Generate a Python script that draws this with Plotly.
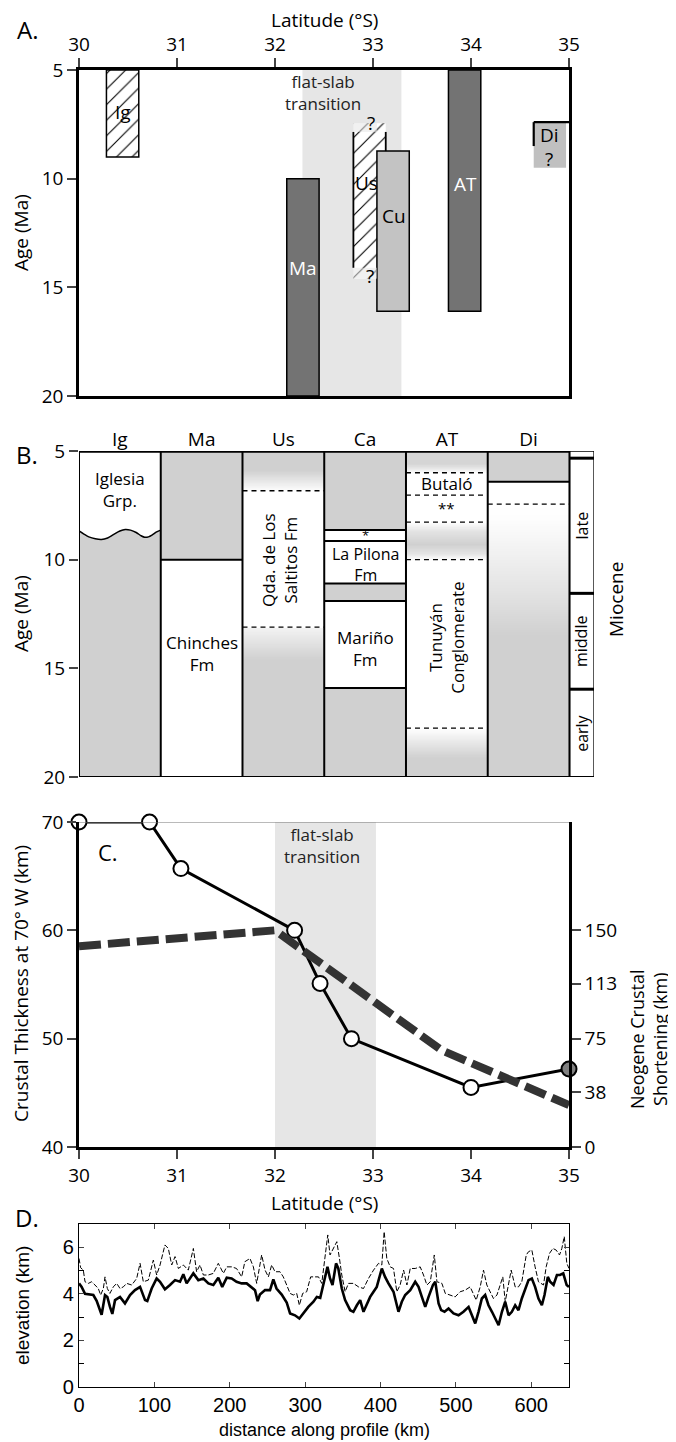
import numpy as np
import plotly.graph_objects as go

W, H = 676, 1442
FONT = "Open Sans"
DFONT = "Liberation Sans"
PAGE_OFF = 8  # the page body margin shifts the figure by this many pixels


def fx(p):
    return (p - PAGE_OFF) / W


def fy(p):
    return 1 - (p - PAGE_OFF) / H


# ---------------- Panel A data ----------------
a_units = ["Ig", "Ma", "Us", "Cu", "AT", "Di"]
a_lat_left = [30.28, 32.12, 32.80, 33.04, 33.77, 34.64]
a_age_top = [5.0, 10.0, 7.45, 8.73, 5.0, 7.4]
a_age_bottom = [9.0, 20.0, 14.6, 16.1, 16.1, 9.5]
a_width = 0.33
a_band = [32.28, 33.29]

# ---------------- Panel B data ----------------
b_columns = ["Ig", "Ma", "Us", "Ca", "AT", "Di"]
# shading nodes (age, shade 0=white 1=grey) per column
b_shade = [
    [(5, 0), (20, 0)],
    [(5, 1), (10, 1), (10, 0), (20, 0)],
    [(5, 1), (5.9, 1), (6.83, 0.05), (6.83, 0), (13.1, 0), (13.1, 0.25), (14.6, 1), (20, 1)],
    [(5, 1), (8.64, 1), (8.64, 0), (11.1, 0), (11.1, 1), (11.9, 1), (11.9, 0), (15.9, 0), (15.9, 1), (20, 1)],
    [(5, 0.9), (5.6, 0.9), (6.0, 0.1), (6.0, 0), (8.27, 0), (8.7, 0.6), (9.3, 1), (9.7, 0.6), (10.0, 0.05),
     (10.0, 0), (17.75, 0), (18.4, 0.5), (19.1, 1), (20, 1)],
    [(5, 1), (6.41, 1), (6.41, 0), (7.44, 0), (8.2, 0.05), (11.5, 0.6), (13.5, 1), (20, 1)],
]
# boundaries: (column, age, style)
b_bounds = [
    (1, 10.0, "solid"),
    (2, 6.83, "dash"), (2, 13.1, "dash"),
    (3, 8.64, "solid"), (3, 9.14, "solid"), (3, 11.1, "solid"), (3, 11.9, "solid"), (3, 15.9, "solid"),
    (4, 6.0, "dash"), (4, 7.03, "dash"), (4, 8.27, "dash"), (4, 10.0, "dash"), (4, 17.75, "dash"),
    (5, 6.41, "solid"), (5, 7.44, "dash"),
]
ig_wave_x = [0.0, 0.06, 0.12, 0.2, 0.275, 0.35, 0.42, 0.5, 0.566, 0.63, 0.70, 0.76, 0.804, 0.85, 0.9, 0.95, 1.0]
ig_wave_age = [8.68, 8.82, 8.95, 9.04, 9.07, 9.0, 8.85, 8.68, 8.61, 8.64, 8.75, 8.9, 8.97, 8.95, 8.85, 8.72, 8.64]
epoch_bounds = [5.33, 11.55, 15.96]
epoch_names = ["late", "middle", "early"]

# ---------------- Panel C data ----------------
c_lat = [30.0, 30.72, 31.04, 32.2, 32.46, 32.78, 34.0, 35.0]
c_thick = [70.0, 70.0, 65.7, 60.0, 55.1, 50.0, 45.5, 47.2]
s_lat = [30.0, 32.0, 33.7, 35.0]
s_short = [139, 150, 67, 29]
c_band = [32.0, 33.03]

# ---------------- Panel D data ----------------
d_dist_solid = [0, 3.5, 8, 14.6, 19, 23.4, 30, 34.5, 37.6, 41, 44.2, 47.8, 54.4, 61, 67.7, 74.3, 81, 87.6, 90.6,
                96.4, 103, 107.5, 114, 120.7, 127.4, 134, 138.4, 142.8, 151.7, 158.3, 165, 171.6, 178.2, 184.8,
                190, 196, 202.5, 209, 215.8, 222.4, 229, 233.5, 237, 240, 246.8, 253.4, 257.8, 262, 268.9,
                275.5, 280, 286.5, 292.3, 297.6, 304.2, 311, 315.5, 320, 324.3, 329.6, 333, 336.3, 341, 344,
                348.6, 353, 359.7, 364, 368.6, 373, 377.4, 381.8, 386.2, 390.7, 395, 401.7, 406, 410.5, 417.2,
                423.8, 428.2, 432.7, 439.4, 446, 450.4, 454.8, 459.3, 463.7, 469.5, 472.6, 477, 480.4, 484.9,
                490.2, 496.8, 503.5, 510, 516.8, 521.2, 525.6, 530, 534.4, 538.8, 543.2, 547.8, 552, 556.6, 561,
                565.4, 569.8, 574.2, 578.6, 583, 587.4, 591.9, 596.3, 600.7, 605, 609.5, 614, 617.5, 621.9, 625,
                629.5, 634, 638, 642.4, 646.9, 650]
d_elev_solid = [4.45, 4.3, 4.0, 3.97, 3.95, 3.7, 3.1, 3.95, 3.87, 3.45, 3.14, 3.73, 3.87, 3.59, 3.95, 4.16, 4.3,
                3.73, 3.69, 4.23, 4.66, 4.52, 4.2, 4.38, 4.59, 4.52, 4.84, 4.45, 4.88, 4.59, 4.66, 4.45, 4.38,
                4.69, 4.3, 4.69, 4.66, 4.52, 4.45, 4.45, 4.3, 4.16, 3.69, 3.97, 4.16, 4.16, 4.62, 4.23, 3.97,
                3.63, 3.16, 3.08, 2.94, 3.16, 3.44, 3.66, 3.87, 3.83, 4.38, 5.16, 4.66, 4.38, 5.31, 5.09, 4.23,
                3.73, 3.30, 3.23, 3.51, 3.73, 3.23, 3.59, 3.87, 4.09, 4.30, 5.09, 4.73, 4.45, 4.09, 3.23, 3.66,
                3.95, 4.16, 4.52, 4.30, 3.87, 3.44, 3.87, 4.38, 4.52, 3.59, 3.30, 3.23, 3.37, 3.16, 3.08, 3.23,
                3.44, 3.08, 2.73, 3.23, 3.80, 3.95, 3.51, 3.23, 2.94, 2.65, 3.23, 3.66, 3.08, 3.23, 3.51, 3.30,
                3.80, 4.16, 4.59, 4.66, 4.30, 3.80, 3.51, 3.95, 4.73, 4.52, 4.38, 4.81, 4.81, 4.88, 4.38, 4.3]
d_dist_dash = [0, 2.2, 5.7, 8, 12.4, 16.8, 21.2, 25.6, 28.7, 32.3, 34.5, 37.6, 41, 45.5, 50, 54.4, 58.8, 63.2,
               69.9, 76.5, 81, 85.3, 92, 98.6, 103, 107.5, 114, 118.5, 123, 127.4, 131.8, 138.4, 145, 151.7,
               156, 160.5, 165, 171.6, 178.2, 184.8, 191.5, 196, 202.5, 209, 215.8, 220, 226.8, 231.3, 235.7,
               242.3, 246.8, 251.2, 255.6, 260, 266.6, 271, 275.5, 280, 284.3, 288.8, 292.3, 296.7, 302, 307.3,
               313, 317.7, 322, 326.5, 330, 333, 337.6, 342, 345.5, 348.6, 353, 357.5, 364, 370.8, 377.4, 384,
               390.7, 397.3, 401.7, 404.8, 408.3, 412.8, 417.2, 421.6, 426, 430.6, 435, 439.4, 446, 452.6, 457,
               461.5, 466, 471.3, 474.8, 481.4, 485.9, 492.5, 499, 505.6, 512.3, 518.9, 523.3, 526.9, 532.2,
               536.6, 541, 545.4, 549.8, 554.4, 558.7, 562.2, 565.4, 569.8, 573.3, 578.6, 583, 587.4, 593.3,
               596.3, 600.7, 605, 609.5, 616.2, 619.7, 624.2, 628.6, 633, 637.4, 640.5, 643.7, 647.1, 650]
d_elev_dash = [5.52, 5.12, 5.02, 4.52, 4.45, 4.52, 4.38, 4.23, 3.95, 4.23, 4.73, 4.23, 4.02, 4.30, 4.45, 4.23,
               4.30, 4.45, 4.38, 4.66, 5.31, 4.52, 4.59, 5.45, 4.81, 5.24, 6.10, 5.95, 5.24, 5.60, 5.09, 5.24,
               5.02, 5.95, 4.95, 5.24, 4.81, 4.81, 4.88, 5.31, 4.88, 5.16, 5.16, 5.09, 4.73, 5.38, 5.52, 5.16,
               4.45, 5.67, 5.02, 4.73, 5.24, 4.95, 4.95, 4.73, 4.38, 4.02, 3.95, 4.02, 3.51, 4.02, 4.09, 4.73,
               4.73, 4.73, 4.45, 5.67, 6.53, 5.67, 5.95, 6.24, 5.52, 4.81, 4.09, 4.45, 4.45, 4.30, 4.23, 4.66,
               5.02, 5.31, 5.24, 6.67, 5.52, 5.16, 5.09, 4.09, 4.38, 5.02, 4.38, 5.09, 5.09, 5.16, 4.81, 4.38,
               4.52, 5.67, 4.52, 4.45, 4.02, 3.95, 3.87, 4.09, 4.16, 4.30, 3.95, 3.73, 4.30, 5.02, 4.38, 4.09,
               3.80, 3.95, 4.38, 4.73, 3.66, 4.45, 5.02, 4.30, 4.30, 4.52, 5.67, 5.81, 5.88, 5.16, 4.52, 4.38,
               5.16, 5.74, 5.95, 5.88, 5.67, 5.95, 6.46, 5.31, 5.09]

GREY = "#d0d0d0"
DARK = "#737373"
LIGHT = "#c3c3c3"
BAND = "#e6e6e6"

fig = go.Figure()
shapes = []
ann = []


def add_ann(text, x, y, xref, yref, size=19, color="black", angle=0, family=FONT):
    ann.append(dict(text=text, x=x, y=y, xref=xref, yref=yref, showarrow=False, textangle=angle,
                    xanchor="center", yanchor="middle", borderpad=0,
                    font=dict(family=family, size=size, color=color)))


# ================= Panel A =================
shapes.append(dict(type="rect", xref="x", yref="y", x0=a_band[0], x1=a_band[1], y0=5, y1=20,
                   fillcolor=BAND, line_width=0, layer="below"))


def a_bar(idx_list, fill, pattern=None, line_w=1.5):
    xs = [a_lat_left[i] + a_width / 2 for i in idx_list]
    base = [a_age_top[i] for i in idx_list]
    length = [a_age_bottom[i] - a_age_top[i] for i in idx_list]
    marker = dict(color=fill, line=dict(color="black", width=line_w))
    if pattern:
        marker["pattern"] = dict(shape="/", fgcolor="black", bgcolor="white", size=11, solidity=0.1)
    fig.add_trace(go.Bar(x=xs, y=length, base=base, width=a_width, marker=marker,
                         xaxis="x", yaxis="y", showlegend=False, hoverinfo="skip"))


a_bar([0], "white", pattern=True)             # Ig
a_bar([2], "white", pattern=True, line_w=0)   # Us
a_bar([1, 4], DARK)                            # Ma, AT
a_bar([3], LIGHT)                              # Cu
a_bar([5], "#c0c0c0", line_w=0)               # Di

# Us fades and borders
us_l, us_r = a_lat_left[2], a_lat_left[2] + a_width
for y0, y1 in [(a_age_top[2], 7.85), (14.1, a_age_bottom[2])]:
    shapes.append(dict(type="rect", xref="x", yref="y", x0=us_l - 0.005, x1=a_lat_left[3], y0=y0, y1=y1,
                       fillcolor=BAND, opacity=0.55, line_width=0))
shapes.append(dict(type="line", xref="x", yref="y", x0=us_l, x1=us_l, y0=7.85, y1=14.1,
                   line=dict(color="black", width=1.8)))
shapes.append(dict(type="line", xref="x", yref="y", x0=us_r, x1=us_r, y0=7.85, y1=a_age_top[3],
                   line=dict(color="black", width=1.8)))
# Di partial border
di_l = a_lat_left[5]
shapes.append(dict(type="line", xref="x", yref="y", x0=di_l, x1=35, y0=a_age_top[5], y1=a_age_top[5],
                   line=dict(color="black", width=2.2)))
shapes.append(dict(type="line", xref="x", yref="y", x0=di_l, x1=di_l, y0=a_age_top[5], y1=8.5,
                   line=dict(color="black", width=2.2)))

a_labels = [("Ig", 30.45, 6.95, "black"), ("Ma", 32.285, 14.1, "white"), ("Us", 32.93, 10.2, "black"),
            ("Cu", 33.21, 11.7, "black"), ("AT", 33.94, 10.25, "white"), ("Di", 34.8, 8.0, "black"),
            ("?", 32.98, 7.45, "black"), ("?", 32.97, 14.5, "black"), ("?", 34.8, 9.1, "black")]
for t, x, y, c in a_labels:
    add_ann(t, x, y, "x", "y", 19, c)
add_ann("flat-slab<br>transition", 32.49, 6.05, "x", "y", 17, "#222")

# ================= Panel B =================
ages = np.arange(5, 20.0001, 0.025)
Z = np.zeros((len(ages), len(b_columns)))
for j, nodes in enumerate(b_shade):
    xp = np.array([n[0] for n in nodes], dtype=float) + np.arange(len(nodes)) * 1e-6
    fp = np.array([n[1] for n in nodes], dtype=float)
    Z[:, j] = np.interp(ages, xp, fp)
fig.add_trace(go.Heatmap(x=[i + 0.5 for i in range(len(b_columns))], y=ages, z=Z,
                         colorscale=[[0, "white"], [1, GREY]], zmin=0, zmax=1, showscale=False,
                         xaxis="x2", yaxis="y2", hoverinfo="skip"))
# Iglesia wavy contact
fig.add_trace(go.Scatter(x=ig_wave_x + [1, 0], y=ig_wave_age + [20, 20], fill="toself", fillcolor=GREY,
                         mode="lines", line=dict(width=0), xaxis="x2", yaxis="y2",
                         showlegend=False, hoverinfo="skip"))
fig.add_trace(go.Scatter(x=ig_wave_x, y=ig_wave_age, mode="lines",
                         line=dict(color="black", width=1.5, shape="spline"), xaxis="x2", yaxis="y2",
                         showlegend=False, hoverinfo="skip"))

for col, age, style in b_bounds:
    shapes.append(dict(type="line", xref="x2", yref="y2", x0=col, x1=col + 1, y0=age, y1=age,
                       line=dict(color="black", width=2 if style == "solid" else 1.3,
                                 dash="solid" if style == "solid" else "5px,4px")))
for i in range(len(b_columns) + 1):
    shapes.append(dict(type="line", xref="x2", yref="y2", x0=i, x1=i, y0=5, y1=20,
                       line=dict(color="black", width=2)))
shapes.append(dict(type="line", xref="x2", yref="y2", x0=0, x1=6, y0=5, y1=5, line=dict(color="black", width=3.5)))
shapes.append(dict(type="line", xref="x2", yref="y2", x0=0, x1=6.3, y0=20, y1=20, line=dict(color="black", width=2)))
# time scale column
shapes.append(dict(type="rect", xref="x2", yref="y2", x0=6, x1=6.3, y0=5, y1=20,
                   line=dict(color="black", width=1.3), fillcolor="white", layer="below"))
for e in epoch_bounds:
    shapes.append(dict(type="line", xref="x2", yref="y2", x0=6, x1=6.3, y0=e, y1=e,
                       line=dict(color="black", width=3)))
ep_edges = epoch_bounds + [20]
for k, name in enumerate(epoch_names):
    add_ann(name, 6.15, (ep_edges[k] + ep_edges[k + 1]) / 2, "x2", "y2", 16, angle=-90)
add_ann("Miocene", fx(616), fy(600), "paper", "paper", 19, angle=-90)

b_texts = [("Iglesia<br>Grp.", 0.5, 6.75, 0, 17), ("Chinches<br>Fm", 1.5, 14.3, 0, 17),
           ("Qda. de Los<br>Saltitos Fm", 2.45, 10.0, -90, 17), ("*", 3.5, 8.86, 0, 13),
           ("La Pilona<br>Fm", 3.5, 10.2, 0, 16), ("Mariño<br>Fm", 3.5, 14.1, 0, 17), ("Butaló", 4.5, 6.5, 0, 17),
           ("**", 4.5, 7.6, 0, 15), ("Tunuyán<br>Conglomerate", 4.5, 13.6, -90, 17)]
for t, x, y, ang, sz in b_texts:
    add_ann(t, x, y, "x2", "y2", sz, angle=ang)

# ================= Panel C =================
shapes.append(dict(type="rect", xref="x3", yref="y3", x0=c_band[0], x1=c_band[1], y0=40, y1=70,
                   fillcolor=BAND, line_width=0, layer="below"))
shapes.append(dict(type="line", xref="x3", yref="y3", x0=30, x1=35, y0=70, y1=70,
                   line=dict(color="#777", width=1)))
fig.add_trace(go.Scatter(x=s_lat, y=s_short, mode="lines", line=dict(color="#333", width=8, dash="22px,7px"),
                         xaxis="x3", yaxis="y4", showlegend=False, hoverinfo="skip", cliponaxis=False))
fig.add_trace(go.Scatter(x=c_lat, y=c_thick, mode="lines+markers", line=dict(color="black", width=3),
                         marker=dict(size=15, color=["white"] * (len(c_lat) - 1) + ["#808080"],
                                     line=dict(color="black", width=2)),
                         xaxis="x3", yaxis="y3", showlegend=False, hoverinfo="skip", cliponaxis=False))
add_ann("C.", 30.3, 67.2, "x3", "y3", 22)
add_ann("flat-slab<br>transition", 32.48, 67.8, "x3", "y3", 17, "#222")

# ================= Panel D =================
fig.add_trace(go.Scatter(x=d_dist_dash, y=d_elev_dash, mode="lines",
                         line=dict(color="black", width=1, dash="5px,2px"),
                         xaxis="x4", yaxis="y5", showlegend=False, hoverinfo="skip"))
fig.add_trace(go.Scatter(x=d_dist_solid, y=d_elev_solid, mode="lines", line=dict(color="black", width=2.6),
                         xaxis="x4", yaxis="y5", showlegend=False, hoverinfo="skip"))


# ================= Titles / labels =================
def pann(text, x, y, size=19, angle=0, family=FONT):
    add_ann(text, fx(x), fy(y), "paper", "paper", size, "black", angle, family)


pann("A.", 27, 30, 24)
pann("Latitude (°S)", 324, 20)
pann("Age (Ma)", 21, 233, angle=-90)
pann("B.", 27, 455, 24)
pann("Age (Ma)", 21, 614, angle=-90)
pann("Crustal Thickness at 70° W (km)", 21, 984, angle=-90)
pann("Neogene Crustal<br>Shortening (km)", 648, 1040, 18, -90)
pann("Latitude (°S)", 324, 1203)
pann("D.", 27, 1217, 24)
pann("elevation (km)", 22, 1306, 19, -90, DFONT)
pann("distance along profile (km)", 324, 1430, 18, 0, DFONT)

tick_font = dict(family=FONT, size=19, color="black")
dtick_font = dict(family=DFONT, size=20, color="black")
common = dict(showgrid=False, zeroline=False, automargin=False)

fig.update_layout(
    template="none",
    width=W, height=H, margin=dict(l=0, r=0, t=0, b=0, autoexpand=False), plot_bgcolor="white",
    paper_bgcolor="white",
    barmode="overlay", shapes=shapes, annotations=ann, showlegend=False,
    xaxis=dict(domain=[fx(79), fx(569)], anchor="y", side="top", range=[30, 35], tickvals=[30, 31, 32, 33, 34, 35],
               ticks="outside", ticklen=9, tickwidth=2, showline=True, linewidth=2.5, linecolor="black",
               mirror=True, tickfont=tick_font, **common),
    yaxis=dict(domain=[fy(396), fy(70)], anchor="x", range=[20, 5], tickvals=[5, 10, 15, 20],
               ticks="outside", ticklen=9, tickwidth=2, showline=True, linewidth=2.5, linecolor="black",
               mirror=True, tickfont=tick_font, **common),
    xaxis2=dict(domain=[fx(79), fx(594)], anchor="y2", side="top", range=[0, 6.3],
                tickvals=[i + 0.5 for i in range(6)], ticktext=b_columns, ticks="", showline=False,
                tickfont=tick_font, **common),
    yaxis2=dict(domain=[fy(777), fy(451)], anchor="x2", range=[20, 5], tickvals=[5, 10, 15, 20],
                ticks="outside", ticklen=9, tickwidth=2, showline=False, tickfont=tick_font, **common),
    xaxis3=dict(domain=[fx(79), fx(569)], anchor="y3", range=[30, 35], tickvals=[30, 31, 32, 33, 34, 35],
                ticks="outside", ticklen=9, tickwidth=2, showline=True, linewidth=2.5, linecolor="black",
                tickfont=tick_font, **common),
    yaxis3=dict(domain=[fy(1147), fy(822)], anchor="x3", range=[40, 70], tickvals=[40, 50, 60, 70],
                ticks="outside", ticklen=9, tickwidth=2, showline=True, linewidth=2.5, linecolor="black",
                tickfont=tick_font, **common),
    yaxis4=dict(overlaying="y3", anchor="x3", side="right", range=[0, 225], tickvals=[0, 38, 75, 113, 150],
                ticks="outside", ticklen=9, tickwidth=2, showline=True, linewidth=2.5, linecolor="black",
                tickfont=tick_font, **common),
    xaxis4=dict(domain=[fx(79), fx(569)], anchor="y5", range=[0, 650], dtick=100, tick0=0,
                ticks="inside", ticklen=5, tickwidth=1, showline=True, linewidth=1.3, linecolor="black",
                mirror="ticks", tickfont=dtick_font, **common),
    yaxis5=dict(domain=[fy(1387), fy(1224)], anchor="x4", range=[0, 7], dtick=2, tick0=0,
                ticks="inside", ticklen=5, tickwidth=1, showline=True, linewidth=1.3, linecolor="black",
                mirror="ticks", tickfont=dtick_font,
                minor=dict(dtick=1, tick0=0, ticks="inside", ticklen=5, tickwidth=1, tickcolor="black"),
                **common),
)

fig.write_html("out.html")
